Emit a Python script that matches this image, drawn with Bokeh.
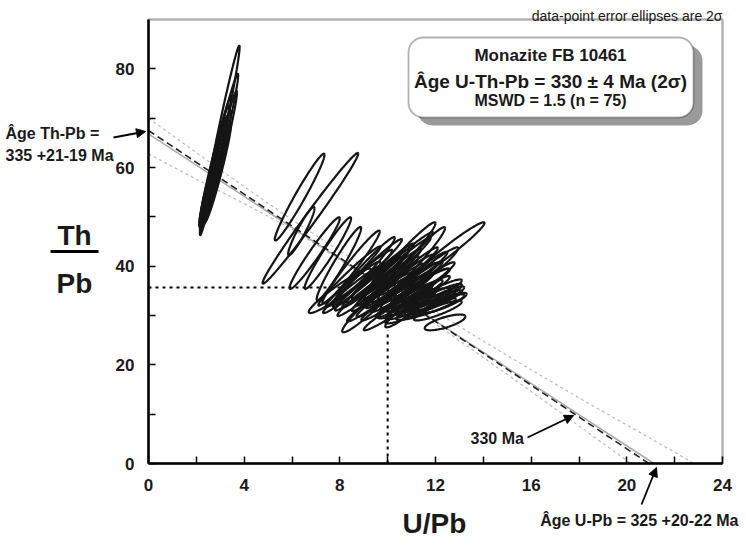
import numpy as np
from bokeh.plotting import figure
from bokeh.models import (Range1d, FixedTicker, Label, Arrow, NormalHead, BoxAnnotation,
                          LinearAxis)
from bokeh.embed import file_html
from bokeh.resources import INLINE

# ---------------- data ----------------
x_ticks = [0, 4, 8, 12, 16, 20, 24]
x_minor = [2, 6, 10, 14, 18, 22]
y_ticks = [0, 20, 40, 60, 80]
y_minor = [10, 30, 50, 70]

# error ellipses: centre U/Pb, centre Th/Pb, 2-sigma half-range U/Pb, 2-sigma half-range Th/Pb, correlation
ell_x = [2.98, 2.95, 2.80, 2.75, 2.70, 2.85, 2.65, 2.90, 2.75, 2.60, 3.00, 2.70,
         6.32, 6.77, 6.39, 6.95, 7.50, 7.96, 8.47, 9.00,
         8.00, 9.20, 10.90, 8.70,
         10.50, 11.00, 12.55, 11.60, 11.30, 11.90,
         11.80, 11.50, 12.00, 11.20, 12.20, 11.60, 10.80, 12.40, 11.00, 12.10, 12.40,
         10.00, 10.30, 10.60, 9.70, 10.90, 9.40, 10.20, 11.20, 9.90, 10.50, 9.10, 10.80,
         11.40, 9.60, 10.90, 10.10, 9.50, 11.10, 10.40, 9.30, 8.80, 8.60, 10.70, 11.60,
         10.20, 9.80, 11.30, 10.60, 9.00, 11.70, 10.00, 11.30, 12.00, 8.40]
ell_y = [65.5, 63.0, 61.0, 59.5, 58.0, 60.0, 57.5, 59.0, 60.5, 56.5, 62.0, 58.8,
         54.0, 49.7, 47.1, 42.65, 42.65, 40.5, 39.8, 39.0,
         35.0, 31.5, 31.5, 36.3,
         41.0, 40.5, 43.2, 38.5, 35.5, 33.3,
         32.5, 33.0, 32.0, 31.8, 33.5, 31.3, 32.2, 32.6, 30.8, 31.0, 28.6,
         37.0, 36.0, 37.5, 35.5, 36.5, 36.8, 38.5, 37.0, 34.0, 34.5, 34.5, 35.0,
         36.0, 38.0, 39.0, 32.8, 33.0, 34.0, 40.0, 39.5, 37.5, 35.5, 33.0, 35.0,
         30.8, 39.0, 38.5, 41.5, 36.0, 37.0, 35.2, 32.8, 34.5, 38.0]
ell_dx = [0.83, 0.80, 0.65, 0.57, 0.55, 0.60, 0.50, 0.55, 0.62, 0.48, 0.70, 0.52,
          1.04, 2.00, 0.55, 1.05, 0.97, 0.93, 1.20, 1.30,
          1.30, 1.10, 1.00, 1.00,
          1.50, 1.40, 1.50, 1.35, 1.25, 1.20,
          1.30, 1.40, 1.20, 1.30, 1.00, 1.25, 1.20, 0.90, 1.10, 1.00, 0.85,
          1.30, 1.20, 1.30, 1.20, 1.20, 1.30, 1.20, 1.10, 1.20, 1.20, 1.20, 1.10,
          1.20, 1.30, 1.20, 1.20, 1.20, 1.20, 1.40, 1.30, 1.40, 1.30, 1.20, 1.00,
          1.20, 1.30, 1.20, 1.30, 1.20, 1.10, 1.10, 1.30, 1.10, 1.30]
ell_dy = [19.2, 16.0, 13.3, 11.0, 10.5, 11.5, 9.5, 10.0, 12.0, 8.5, 13.5, 9.2,
          8.8, 13.25, 4.9, 7.25, 7.25, 7.45, 7.4, 6.9,
          4.5, 4.9, 3.9, 4.6,
          7.9, 7.4, 5.7, 5.3, 4.0, 3.1,
          2.6, 2.9, 2.3, 2.6, 2.4, 2.2, 2.8, 2.0, 2.4, 2.0, 1.6,
          5.0, 4.5, 4.8, 4.6, 4.2, 5.2, 5.0, 4.0, 4.3, 3.8, 4.6, 3.6,
          3.5, 5.4, 4.8, 3.8, 4.2, 3.2, 5.8, 6.0, 5.8, 5.0, 3.4, 3.0,
          3.8, 5.6, 4.4, 5.4, 5.0, 3.8, 3.6, 2.8, 2.8, 6.0]
ell_rho = [0.984, 0.980, 0.975, 0.968, 0.965, 0.970, 0.958, 0.962, 0.972, 0.950, 0.976, 0.958,
           0.973, 0.990, 0.940, 0.970, 0.967, 0.965, 0.975, 0.976,
           0.950, 0.950, 0.940, 0.950,
           0.975, 0.973, 0.974, 0.965, 0.950, 0.920,
           0.920, 0.930, 0.900, 0.920, 0.910, 0.890, 0.920, 0.870, 0.910, 0.880, 0.730,
           0.975, 0.974, 0.975, 0.975, 0.970, 0.977, 0.975, 0.965, 0.970, 0.965, 0.973, 0.960,
           0.955, 0.979, 0.975, 0.965, 0.970, 0.945, 0.980, 0.980, 0.980, 0.977, 0.950, 0.945,
           0.965, 0.980, 0.970, 0.980, 0.975, 0.960, 0.960, 0.920, 0.930, 0.982]

# 330 Ma reference isochron (dashed), best-fit line (grey) and its error envelope
iso_x = [0.0, 20.92]
iso_y = [67.5, 0.0]
fit_x = [0.0, 21.13]
fit_y = [66.8, 0.0]
env_up_x = [0, 2, 4, 6, 8, 10, 12, 14, 16, 18, 20, 22, 22.8]
env_up_y = [70.0, 63.0, 56.1, 49.4, 43.1, 36.9, 30.8, 24.8, 19.0, 13.3, 7.8, 2.3, 0.0]
env_lo_x = [0, 2, 4, 6, 8, 10, 12, 14, 16, 18, 20, 20.2]
env_lo_y = [62.8, 57.6, 52.7, 47.5, 41.3, 34.9, 28.3, 21.5, 14.6, 7.6, 0.6, 0.0]

# centroid guide lines (dotted)
guide_h_x = [0.0, 8.2]
guide_h_y = [35.7, 35.7]
guide_v_x = [10.0, 10.0]
guide_v_y = [0.0, 27.0]

# plotted area of the diagram
X_MIN, X_MAX, Y_MIN, Y_MAX = 0, 24, 0, 90

FONT = "Liberation Sans"
INK = "#1a1a1a"
W, H = 746, 546
# the diagram box sits at pixels 148..722 (x) and 19..463 (y) of the page
PX_L, PX_R, PY_T, PY_B = 148, 722, 19, 463
sx = (PX_R - PX_L) / (X_MAX - X_MIN)
sy = (PY_B - PY_T) / (Y_MAX - Y_MIN)

p = figure(width=W, height=H, min_border=0, output_backend="svg", toolbar_location=None,
           title_location=None, x_axis_location=None, y_axis_location=None,
           x_range=Range1d(X_MIN - PX_L / sx, X_MAX + (W - PX_R) / sx),
           y_range=Range1d(Y_MIN - (H - PY_B) / sy, Y_MAX + PY_T / sy))
p.grid.visible = False
p.background_fill_color = "white"
p.border_fill_color = "white"
p.outline_line_color = None

def style_axis(ax, standoff):
    ax.axis_line_width = 2.5
    ax.axis_line_color = "black"
    ax.major_tick_in = 7
    ax.major_tick_out = 0
    ax.minor_tick_in = 7
    ax.minor_tick_out = 0
    ax.major_tick_line_width = 1.5
    ax.minor_tick_line_width = 1.5
    ax.major_label_text_font = FONT
    ax.major_label_text_font_style = "bold"
    ax.major_label_text_font_size = "17px"
    ax.major_label_text_color = INK
    ax.major_label_standoff = standoff

xa = LinearAxis(fixed_location=Y_MIN, bounds=(X_MIN, X_MAX),
                ticker=FixedTicker(ticks=x_ticks, minor_ticks=x_minor))
ya = LinearAxis(fixed_location=X_MIN, bounds=(Y_MIN, Y_MAX),
                ticker=FixedTicker(ticks=y_ticks, minor_ticks=y_minor))
style_axis(xa, 15)
style_axis(ya, 14)
p.add_layout(xa, "below")
p.add_layout(ya, "left")

# lines
p.line(env_up_x, env_up_y, line_color="#bbbbbb", line_width=1.2, line_dash="3 3")
p.line(env_lo_x, env_lo_y, line_color="#bbbbbb", line_width=1.2, line_dash="3 3")
p.line(fit_x, fit_y, line_color="#aaaaaa", line_width=1.5)
p.line(iso_x, iso_y, line_color="#222222", line_width=1.6, line_dash="7 4")
p.line(guide_h_x, guide_h_y, line_color="black", line_width=2, line_dash="3 4")
p.line(guide_v_x, guide_v_y, line_color="black", line_width=2, line_dash="3 4")

# ellipses
t = np.linspace(0, 2 * np.pi, 140)
xs, ys = [], []
for cx, cy, dx, dy, r in zip(ell_x, ell_y, ell_dx, ell_dy, ell_rho):
    xs.append(cx + dx * np.cos(t))
    ys.append(cy + dy * (r * np.cos(t) + np.sqrt(1 - r * r) * np.sin(t)))
p.multi_line(xs, ys, line_color="#151515", line_width=2.2)

# frame (top / right sides)
p.add_layout(BoxAnnotation(left=X_MIN, right=X_MAX, bottom=Y_MIN, top=Y_MAX,
                           fill_alpha=0, line_color="black", line_width=2.5))

# helpers: page pixel -> screen units (origin at bottom-left of the page)
def scr(px, py):
    return px, H - py

# legend box with shadow
def box(l, t_, r, b, **kw):
    p.add_layout(BoxAnnotation(left=l, right=r, top=H - t_, bottom=H - b,
                               left_units="screen", right_units="screen",
                               top_units="screen", bottom_units="screen",
                               border_radius=15, **kw))

box(417, 45, 702, 125, fill_color="#9a9a9a", fill_alpha=1, line_alpha=0)
box(408, 37, 693, 117, fill_color="white", fill_alpha=1, line_color="black", line_width=1.8)

def lab(px, py, text, size, align="left", style="bold"):
    x, y = scr(px, py)
    p.add_layout(Label(x=x, y=y, x_units="screen", y_units="screen", text=text,
                       text_font=FONT, text_font_style=style, text_font_size=size,
                       text_align=align, text_baseline="alphabetic", text_color=INK))

lab(550, 55, "Monazite FB 10461", "17px", "center")
lab(550, 81, "Âge U-Th-Pb = 330 ± 4 Ma (2σ)", "19px", "center")
lab(550, 100, "MSWD = 1.5 (n = 75)", "16px", "center")
lab(722, 15, "data-point error ellipses are 2σ", "14px", "right", "normal")
lab(470, 438, "330 Ma", "16px")
lab(5, 133, "Âge Th-Pb =", "16px")
lab(5, 155, "335 +21-19 Ma", "16px")
lab(738, 520, "Âge U-Pb = 325 +20-22 Ma", "16px", "right")
lab(434, 523, "U/Pb", "28px", "center")
lab(74, 235, "Th", "28px", "center")
lab(74, 283, "Pb", "28px", "center")

def arrow(px0, py0, px1, py1, w, head=True):
    x0, y0 = scr(px0, py0)
    x1, y1 = scr(px1, py1)
    end = NormalHead(size=9, fill_color="black", line_color="black") if head else None
    p.add_layout(Arrow(end=end, x_start=x0, y_start=y0, x_end=x1, y_end=y1,
                       start_units="screen", end_units="screen",
                       line_color="black", line_width=w))

arrow(50, 251, 98, 251, 3, head=False)     # fraction bar Th / Pb
arrow(113, 137, 145, 131, 1.8)             # Th-Pb intercept
arrow(527, 437, 573, 415, 1.8)             # 330 Ma isochron
arrow(641, 504, 656, 467, 1.8)             # U-Pb intercept

open("out.html", "w").write(file_html(p, INLINE))
